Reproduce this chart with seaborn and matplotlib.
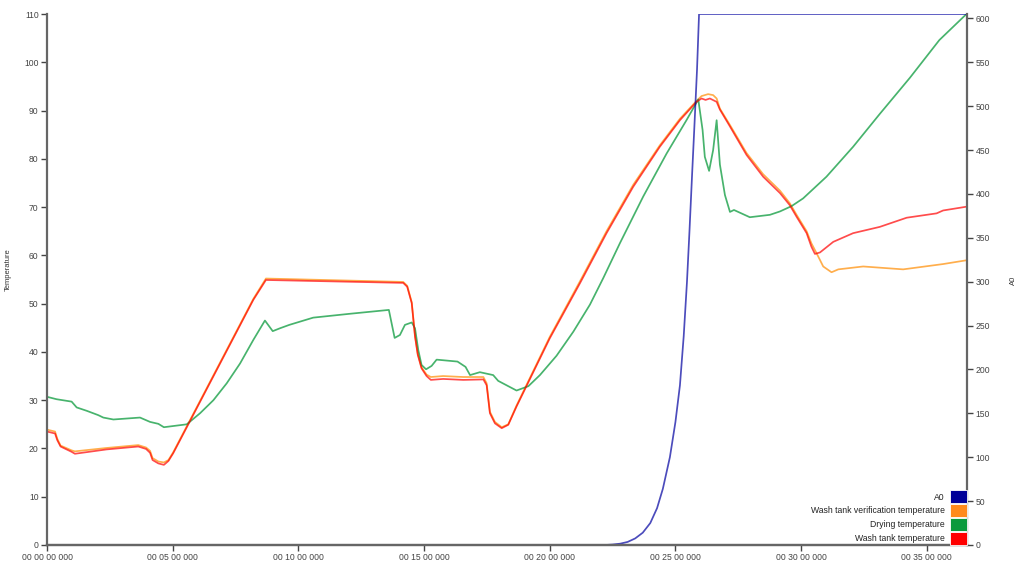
import matplotlib
matplotlib.use("Agg")
import matplotlib.pyplot as plt
from matplotlib.patches import Patch
from matplotlib.ticker import FuncFormatter, MultipleLocator
import seaborn as sns
import numpy as np

# time in minutes, temperatures in degrees
wash_t = [0, 0.32, 0.41, 0.54, 0.98, 1.11, 2.37, 3.63, 3.94, 4.10, 4.20, 4.43, 4.65, 4.83, 5.02,
          8.21, 8.71, 14.17, 14.33, 14.51, 14.64, 14.75, 14.90, 15.10, 15.27, 15.76, 16.56, 17.36,
          17.49, 17.62, 17.82, 18.09, 18.35, 18.68, 20.0, 21.2, 22.26, 23.32, 24.38, 25.18, 25.84,
          26.04, 26.2, 26.37, 26.64, 26.77, 27.17, 27.83, 28.49, 29.16, 29.55, 29.82, 30.22, 30.41,
          30.55, 30.75, 31.28, 32.07, 33.13, 34.2, 35.39, 35.65, 36.6]
wash_temp = [23.5, 23.1, 21.7, 20.4, 19.3, 18.9, 19.8, 20.4, 19.9, 19.1, 17.6, 16.9, 16.6, 17.4, 19.0,
             50.8, 54.9, 54.3, 53.5, 50.1, 43.2, 39.4, 36.6, 35.0, 34.2, 34.4, 34.2, 34.3,
             33.1, 27.3, 25.2, 24.2, 24.9, 28.7, 42.8, 54.2, 64.6, 74.2, 82.5, 88.0, 91.8,
             92.5, 92.2, 92.5, 91.8, 90.2, 86.7, 80.8, 76.3, 72.9, 70.4, 68.0, 64.6, 61.8,
             60.3, 60.6, 62.8, 64.6, 65.9, 67.8, 68.7, 69.3, 70.1]

verif_t = [0, 0.32, 0.41, 0.54, 0.98, 1.11, 2.37, 3.63, 3.94, 4.10, 4.20, 4.43, 4.65, 4.83, 5.02,
           8.21, 8.71, 14.17, 14.33, 14.51, 14.64, 14.75, 14.90, 15.10, 15.27, 15.76, 16.56, 17.36,
           17.49, 17.62, 17.82, 18.09, 18.35, 18.68, 20.0, 21.2, 22.26, 23.32, 24.38, 25.18, 25.84,
           26.04, 26.3, 26.5, 26.64, 26.77, 27.17, 27.83, 28.49, 29.16, 29.55, 29.82, 30.22, 30.41,
           30.62, 30.88, 31.21, 31.48, 32.47, 34.06, 35.65, 36.6]
verif_temp = [23.9, 23.5, 22.0, 20.6, 19.6, 19.4, 20.1, 20.7, 20.2, 19.5, 18.0, 17.3, 17.1, 17.6, 19.2,
              51.0, 55.2, 54.5, 53.7, 50.3, 43.4, 39.6, 36.8, 35.3, 34.8, 35.0, 34.8, 34.8,
              33.5, 27.6, 25.5, 24.4, 25.0, 28.9, 43.1, 54.6, 65.0, 74.6, 82.8, 88.3, 92.0,
              93.0, 93.4, 93.2, 92.5, 90.4, 87.0, 81.2, 76.8, 73.4, 70.8, 68.4, 65.0, 62.5,
              60.4, 57.7, 56.5, 57.1, 57.7, 57.1, 58.2, 59.0]

dry_t = [0, 0.38, 0.98, 1.18, 1.58, 2.04, 2.24, 2.64, 3.70, 4.10, 4.43, 4.65, 5.56, 6.09, 6.62,
         7.15, 7.68, 8.21, 8.67, 8.98, 9.27, 9.64, 10.59, 12.05, 13.60, 13.83, 14.04, 14.24, 14.51,
         14.64, 14.77, 14.90, 15.08, 15.30, 15.50, 16.33, 16.65, 16.83, 17.22, 17.75, 17.95, 18.68,
         19.15, 19.61, 20.27, 20.94, 21.60, 22.13, 22.79, 23.72, 24.65, 25.44, 25.91, 26.08, 26.17,
         26.34, 26.50, 26.64, 26.77, 26.97, 27.17, 27.33, 27.96, 28.76, 29.16, 29.62, 30.08, 31.01,
         32.07, 33.13, 34.33, 35.50, 36.60]
dry_temp = [30.7, 30.2, 29.7, 28.5, 27.8, 26.9, 26.4, 26.0, 26.4, 25.5, 25.1, 24.4, 25.0, 27.3, 30.0,
            33.5, 37.6, 42.5, 46.5, 44.3, 44.9, 45.6, 47.1, 47.9, 48.7, 42.9, 43.5, 45.6, 46.1,
            44.9, 40.4, 37.3, 36.4, 37.1, 38.4, 38.0, 36.9, 35.2, 35.8, 35.2, 34.0, 32.0,
            32.9, 35.2, 39.2, 44.2, 49.8, 55.3, 62.5, 72.2, 81.1, 88.0, 92.3, 86.0, 80.4,
            77.5, 81.8, 88.0, 78.8, 72.5, 69.0, 69.4, 67.9, 68.4, 69.1, 70.2, 71.8, 76.3,
            82.5, 89.3, 96.8, 104.6, 110.1]

a0_t = [0, 22.2, 22.5, 22.8, 23.1, 23.4, 23.7, 24.0, 24.27, 24.5, 24.78, 25.0, 25.18, 25.33,
        25.46, 25.56, 25.66, 25.76, 25.86, 25.94, 36.6]
a0_val = [0, 0, 0.5, 1.5, 3.5, 7.5, 14, 25, 42, 64, 100, 140, 182, 238,
          300, 358, 420, 480, 542, 605, 605]

labels = ["A0", "Wash tank verification temperature", "Drying temperature", "Wash tank temperature"]
legend_colors = ["#000099", "#ff8a1c", "#0a9a3c", "#ff0000"]

sns.set_style("ticks")
plt.rcParams['font.family'] = ['Liberation Sans', 'DejaVu Sans']

fig = plt.figure(figsize=(10.24, 5.65), dpi=100)
ax = fig.add_axes([47 / 1024, 20 / 565, 920 / 1024, 531 / 565])
ax2 = ax.twinx()

lw = 1.25
sns.lineplot(x=verif_t, y=verif_temp, ax=ax, color="#ff8c00", alpha=0.7, linewidth=lw)
sns.lineplot(x=dry_t, y=dry_temp, ax=ax, color="#0a9a3c", alpha=0.75, linewidth=lw)
sns.lineplot(x=wash_t, y=wash_temp, ax=ax, color="#ff0000", alpha=0.7, linewidth=lw)
sns.lineplot(x=a0_t, y=a0_val, ax=ax2, color="#0000a0", alpha=0.7, linewidth=lw)

ax.set_xlim(0, 36.6)
ax.set_ylim(0, 110)
ax2.set_ylim(0, 605)
ax.xaxis.set_major_locator(MultipleLocator(5))
ax.yaxis.set_major_locator(MultipleLocator(10))
ax2.yaxis.set_major_locator(MultipleLocator(50))


def fmt_time(m, pos):
    total_ms = int(round(m * 60000))
    h = total_ms // 3600000
    mm = (total_ms // 60000) % 60
    ss = (total_ms // 1000) % 60
    ms = total_ms % 1000
    return f"{h:02d} {mm:02d} {ss:02d} {ms:03d}"


ax.xaxis.set_major_formatter(FuncFormatter(fmt_time))

spine_col = "#666666"
for a in (ax, ax2):
    a.spines['top'].set_visible(False)
    for s in ('left', 'right', 'bottom'):
        a.spines[s].set_color(spine_col)
        a.spines[s].set_linewidth(1.6)
    a.tick_params(labelsize=6.2, colors="#444444", length=4, width=1, pad=2)
    a.set_xlabel("")
    a.set_ylabel("")
ax2.spines['left'].set_visible(False)
ax.spines['right'].set_visible(False)

fig.text(8 / 1024, 1 - 270 / 565, "Temperature", rotation=90, fontsize=5.5,
         color="#333333", ha='center', va='center')
fig.text(1013 / 1024, 1 - 280 / 565, "A0", rotation=90, fontsize=5.5,
         color="#333333", ha='center', va='center')

handles = [Patch(facecolor=c, edgecolor='white', linewidth=0.6) for c in legend_colors]
ax2.legend(handles, labels, loc='lower right', markerfirst=False, frameon=False,
           fontsize=6.2, handlelength=1.9, handleheight=1.9, handletextpad=0.6,
           labelspacing=0.12, borderaxespad=0.05, borderpad=0.0,
           labelcolor="#222222")

fig.savefig("out.png", dpi=100)
